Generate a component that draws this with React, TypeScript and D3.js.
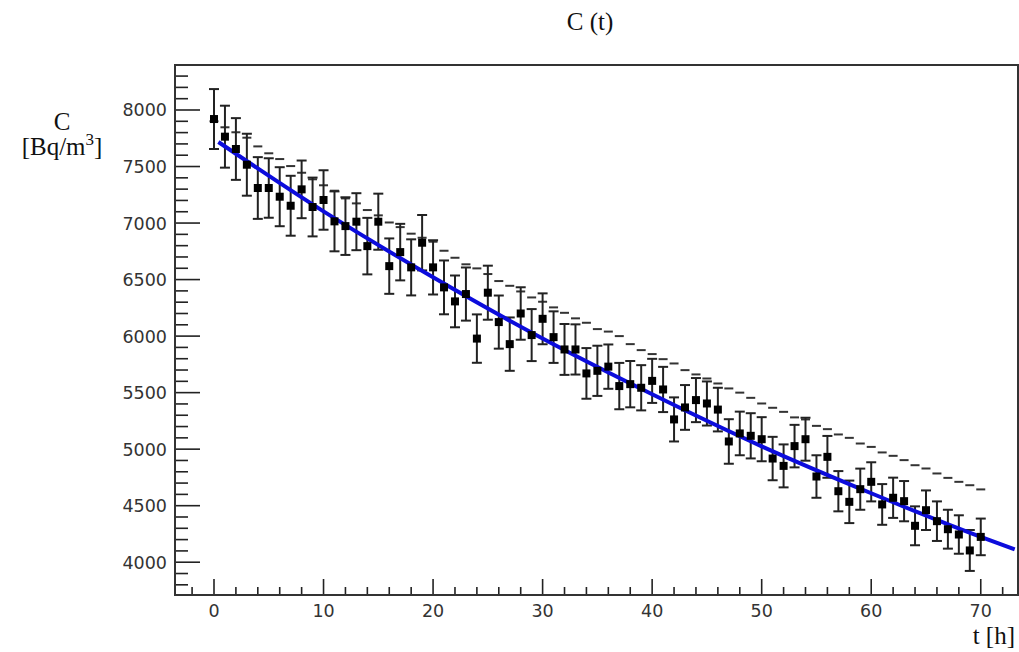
import React from "react";
import * as d3 from "d3";

const W = 1019;
const H = 652;

// Hours of the measured points
const hours: number[] = d3.range(0, 71);

// Measured concentration C [Bq/m3]
const measured: number[] = [
  7920, 7764, 7655, 7516, 7310, 7310, 7233, 7153, 7298, 7142, 7204, 7015,
  6973, 7012, 6796, 7012, 6619, 6743, 6608, 6826, 6608, 6431, 6307, 6372,
  5978, 6384, 6124, 5929, 6200, 6009, 6153, 5991, 5882, 5882, 5670, 5693,
  5730, 5558, 5575, 5543, 5604, 5528, 5263, 5369, 5434, 5404, 5350, 5068,
  5139, 5118, 5088, 4917, 4852, 5027, 5088, 4758, 4932, 4628, 4534, 4646,
  4711, 4511, 4570, 4540, 4322, 4460, 4363, 4292, 4245, 4104, 4224,
];

// Error of each measured value
const errors: number[] = [
  265, 274, 273, 274, 273, 263, 261, 265, 255, 260, 263, 265,
  255, 252, 250, 248, 245, 250, 248, 245, 240, 238, 229, 235,
  214, 239, 235, 236, 232, 230, 225, 228, 225, 222, 224, 222,
  196, 205, 205, 200, 195, 200, 195, 198, 195, 195, 193, 197,
  193, 200, 195, 192, 190, 188, 190, 188, 185, 178, 188, 182,
  173, 180, 178, 178, 172, 175, 175, 172, 170, 181, 162,
];

// Second series drawn as short horizontal dashes
const dashed: number[] = [
  7900, 7847, 7803, 7755, 7678, 7617, 7566, 7504, 7445, 7387, 7334, 7286,
  7218, 7174, 7115, 7068, 7005, 6964, 6906, 6870, 6835, 6755, 6693, 6635,
  6599, 6549, 6487, 6445, 6395, 6342, 6304, 6254, 6206, 6157, 6118, 6062,
  6040, 6000, 5929, 5876, 5841, 5796, 5758, 5699, 5661, 5625, 5581, 5537,
  5500, 5454, 5404, 5366, 5330, 5281, 5263, 5206, 5177, 5130, 5100, 5050,
  5020, 4971, 4941, 4903, 4858, 4829, 4785, 4746, 4711, 4681, 4644,
];

// Fit curve
const fitT: number[] = [0.4, 10, 20, 30, 40, 50, 60, 70, 73.1];
const fitC: number[] = [7717, 7103, 6520, 5978, 5485, 5025, 4610, 4224, 4114];

const xTicks: number[] = [0, 10, 20, 30, 40, 50, 60, 70];
const yTicks: number[] = [4000, 4500, 5000, 5500, 6000, 6500, 7000, 7500, 8000];

const FR = { left: 175, right: 1018, top: 65, bottom: 595 };

export default function App() {
  const x = d3.scaleLinear().domain([-3.56, 73.4]).range([FR.left, FR.right]);
  const y = d3.scaleLinear().domain([3710, 8398]).range([FR.bottom, FR.top]);

  const xMinor = d3.range(-2, 74, 2).filter((v) => v % 10 !== 0);
  const yMinor = d3.range(3800, 8400, 100).filter((v) => v % 500 !== 0);

  const line = d3
    .line<number>()
    .x((_, i) => x(fitT[i]))
    .y((d) => y(d))
    .curve(d3.curveMonotoneX);

  const tickFont = "'DejaVu Sans', Arial, sans-serif";
  const serif = "'Liberation Serif', 'Times New Roman', serif";

  return (
    <svg
      width={W}
      height={H}
      style={{ position: "absolute", left: 0, top: 0, background: "#fff" }}
    >
      <rect x={0} y={0} width={W} height={H} fill="#fff" />

      {/* title */}
      <text x={590} y={30} textAnchor="middle" fontFamily={serif} fontSize={25} fill="#111">
        C (t)
      </text>

      {/* y label */}
      <text x={62} y={130} textAnchor="middle" fontFamily={serif} fontSize={25} fill="#111">
        C
      </text>
      <text x={62} y={155} textAnchor="middle" fontFamily={serif} fontSize={25} fill="#111">
        [Bq/m<tspan dy={-10} fontSize={17}>3</tspan>
        <tspan dy={10}>]</tspan>
      </text>

      {/* x label */}
      <text x={1015} y={644} textAnchor="end" fontFamily={serif} fontSize={25} fill="#111">
        t [h]
      </text>

      {/* ticks */}
      <g stroke="#222" strokeWidth={1.6}>
        {yTicks.map((v) => (
          <line key={"ym" + v} x1={FR.left} x2={FR.left + 25} y1={y(v)} y2={y(v)} />
        ))}
        {yMinor.map((v) => (
          <line key={"yn" + v} x1={FR.left} x2={FR.left + 13} y1={y(v)} y2={y(v)} />
        ))}
        {xTicks.map((v) => (
          <line key={"xm" + v} x1={x(v)} x2={x(v)} y1={FR.bottom} y2={FR.bottom - 16} />
        ))}
        {xMinor.map((v) => (
          <line key={"xn" + v} x1={x(v)} x2={x(v)} y1={FR.bottom} y2={FR.bottom - 8} />
        ))}
      </g>

      {/* tick labels */}
      {yTicks.map((v) => (
        <text
          key={"yl" + v}
          x={167}
          y={y(v) + 6.5}
          textAnchor="end"
          fontFamily={tickFont}
          fontSize={17.5}
          fill="#333"
        >
          {v}
        </text>
      ))}
      {xTicks.map((v) => (
        <text
          key={"xl" + v}
          x={x(v)}
          y={617}
          textAnchor="middle"
          fontFamily={tickFont}
          fontSize={17.5}
          fill="#333"
        >
          {v}
        </text>
      ))}

      {/* dashed series */}
      <g stroke="#333" strokeWidth={2}>
        {hours.map((t, i) => (
          <line
            key={"d" + t}
            x1={x(t) - 4.5}
            x2={x(t) + 4.5}
            y1={y(dashed[i])}
            y2={y(dashed[i])}
          />
        ))}
      </g>

      {/* error bars */}
      <g stroke="#222" strokeWidth={2}>
        {hours.map((t, i) => {
          const cx = x(t);
          const y1 = y(measured[i] + errors[i]);
          const y2 = y(measured[i] - errors[i]);
          return (
            <g key={"e" + t}>
              <line x1={cx} x2={cx} y1={y1} y2={y2} />
              <line x1={cx - 5} x2={cx + 5} y1={y1} y2={y1} />
              <line x1={cx - 5} x2={cx + 5} y1={y2} y2={y2} />
            </g>
          );
        })}
      </g>

      {/* fit */}
      <path d={line(fitC) || ""} fill="none" stroke="#0c0cdc" strokeWidth={4} />

      {/* markers */}
      <g fill="#000">
        {hours.map((t, i) => (
          <rect key={"m" + t} x={x(t) - 4} y={y(measured[i]) - 4} width={8} height={8} />
        ))}
      </g>

      {/* frame */}
      <rect
        x={FR.left}
        y={FR.top}
        width={FR.right - FR.left}
        height={FR.bottom - FR.top}
        fill="none"
        stroke="#333"
        strokeWidth={2}
      />
    </svg>
  );
}
